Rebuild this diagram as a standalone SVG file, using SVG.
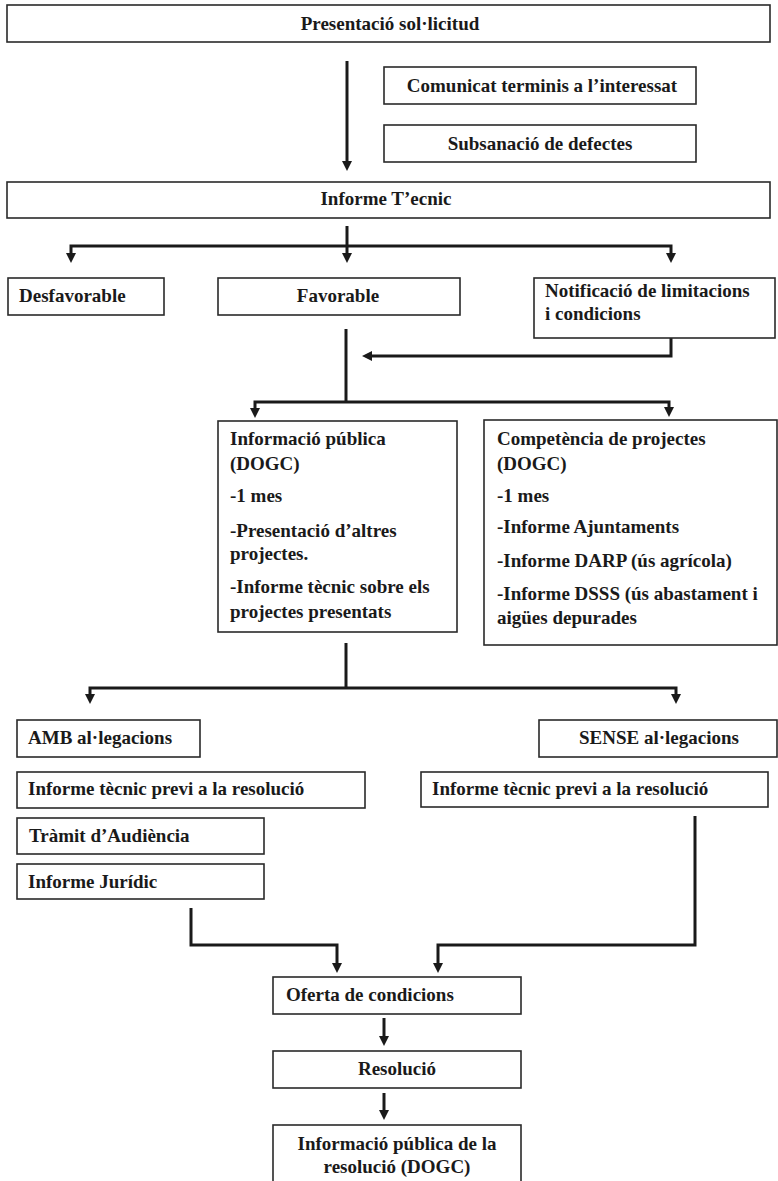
<svg xmlns="http://www.w3.org/2000/svg" width="778" height="1181" viewBox="0 0 778 1181">
<style>
.box{fill:#fff;stroke:#2a2a2a;stroke-width:1.6}
.t{font-family:"Liberation Serif","Times New Roman",serif;font-weight:bold;font-size:19px;fill:#1a1a1a}
.c{text-anchor:middle}
.ln{fill:none;stroke:#1a1a1a;stroke-width:3}
</style>
<defs>
<marker id="ah" markerUnits="userSpaceOnUse" markerWidth="10" markerHeight="10" refX="4" refY="5" orient="auto">
<path d="M0,0 L10,5 L0,10 z" fill="#1a1a1a"/>
</marker>
</defs>
<rect width="778" height="1181" fill="#fff"/>
<g id="connectors">
<path class="ln" d="M347,61 V165" marker-end="url(#ah)"/>
<path class="ln" d="M347,226 V246"/>
<path class="ln" d="M347,246 H71 V257" marker-end="url(#ah)"/>
<path class="ln" d="M347,246 V257" marker-end="url(#ah)"/>
<path class="ln" d="M347,246 H671 V257" marker-end="url(#ah)"/>
<path class="ln" d="M346,329 V402"/>
<path class="ln" d="M671,338 V356 H368" marker-end="url(#ah)"/>
<path class="ln" d="M346,402 H255 V412" marker-end="url(#ah)"/>
<path class="ln" d="M346,402 H669 V411" marker-end="url(#ah)"/>
<path class="ln" d="M346,643 V688"/>
<path class="ln" d="M346,688 H90 V698" marker-end="url(#ah)"/>
<path class="ln" d="M346,688 H676 V698" marker-end="url(#ah)"/>
<path class="ln" d="M191,908 V945 H337 V967" marker-end="url(#ah)"/>
<path class="ln" d="M695,816 V945 H438 V967" marker-end="url(#ah)"/>
<path class="ln" d="M384,1018 V1040" marker-end="url(#ah)"/>
<path class="ln" d="M384,1093 V1114" marker-end="url(#ah)"/>
</g>
<g id="n-presentacio"><rect class="box" x="7" y="5" width="763" height="37"/><text class="t c" x="390" y="30">Presentació sol·licitud</text></g>
<g id="n-comunicat"><rect class="box" x="384" y="67" width="312" height="37"/><text class="t c" x="542" y="92">Comunicat terminis a l’interessat</text></g>
<g id="n-subsanacio"><rect class="box" x="384" y="125" width="312" height="37"/><text class="t c" x="540" y="150">Subsanació de defectes</text></g>
<g id="n-informe-tecnic"><rect class="box" x="7" y="182" width="763" height="36"/><text class="t c" x="386" y="205">Informe T’ecnic</text></g>
<g id="n-desfavorable"><rect class="box" x="8" y="278" width="156" height="37"/><text class="t" x="19" y="302">Desfavorable</text></g>
<g id="n-favorable"><rect class="box" x="218" y="278" width="242" height="37"/><text class="t c" x="338" y="302">Favorable</text></g>
<g id="n-notificacio"><rect class="box" x="534" y="278" width="241" height="60"/><text class="t" x="545" y="297">Notificació de limitacions</text><text class="t" x="545" y="320">i condicions</text></g>
<g id="n-info-publica"><rect class="box" x="218" y="421" width="239" height="211"/>
<text class="t" x="230" y="445">Informació pública</text>
<text class="t" x="230" y="470">(DOGC)</text>
<text class="t" x="230" y="502">-1 mes</text>
<text class="t" x="230" y="537">-Presentació d’altres</text>
<text class="t" x="230" y="560">projectes.</text>
<text class="t" x="230" y="593">-Informe tècnic sobre els</text>
<text class="t" x="230" y="618">projectes presentats</text></g>
<g id="n-competencia"><rect class="box" x="484" y="420" width="293" height="225"/>
<text class="t" x="497" y="445">Competència de projectes</text>
<text class="t" x="497" y="470">(DOGC)</text>
<text class="t" x="497" y="502">-1 mes</text>
<text class="t" x="497" y="533">-Informe Ajuntaments</text>
<text class="t" x="497" y="567">-Informe DARP (ús agrícola)</text>
<text class="t" x="497" y="600">-Informe DSSS (ús abastament i</text>
<text class="t" x="497" y="624">aigües depurades</text></g>
<g id="n-amb"><rect class="box" x="17" y="720" width="183" height="37"/><text class="t" x="28" y="744">AMB al·legacions</text></g>
<g id="n-sense"><rect class="box" x="539" y="720" width="238" height="37"/><text class="t c" x="659" y="744">SENSE al·legacions</text></g>
<g id="n-informe-previ-l"><rect class="box" x="17" y="772" width="348" height="36"/><text class="t" x="28" y="795">Informe tècnic previ a la resolució</text></g>
<g id="n-informe-previ-r"><rect class="box" x="421" y="772" width="347" height="35"/><text class="t" x="432" y="795">Informe tècnic previ a la resolució</text></g>
<g id="n-tramit"><rect class="box" x="17" y="818" width="247" height="36"/><text class="t" x="29" y="842">Tràmit d’Audiència</text></g>
<g id="n-juridic"><rect class="box" x="17" y="864" width="247" height="35"/><text class="t" x="28" y="888">Informe Jurídic</text></g>
<g id="n-oferta"><rect class="box" x="273" y="977" width="248" height="37"/><text class="t" x="286" y="1001">Oferta de condicions</text></g>
<g id="n-resolucio"><rect class="box" x="273" y="1051" width="248" height="37"/><text class="t c" x="397" y="1075">Resolució</text></g>
<g id="n-info-resolucio"><rect class="box" x="273" y="1125" width="248" height="62"/><text class="t c" x="397" y="1150">Informació pública de la</text><text class="t c" x="397" y="1173">resolució (DOGC)</text></g>
</svg>
